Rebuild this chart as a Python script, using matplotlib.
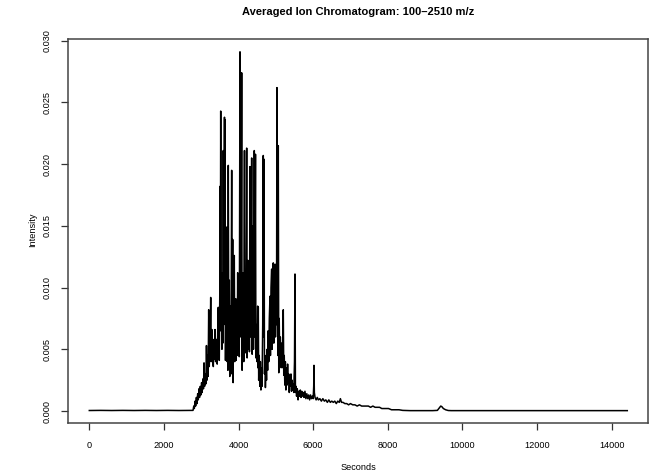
import matplotlib
matplotlib.use("Agg")
import matplotlib.pyplot as plt

# ── data ─────────────────────────────────────────────────────────────────────
baseline_t = [0, 300, 600, 900, 1200, 1500, 1800, 2100, 2400, 2700, 2780]
baseline_v = [0.00004, 0.00005, 0.00004, 0.00005, 0.00004, 0.00005,
              0.00004, 0.00005, 0.00004, 0.00005, 0.00005]

rise_t = [2800, 2815, 2835, 2850, 2870, 2885, 2905, 2920, 2940, 2955,
          2975, 2990, 3010, 3025, 3045, 3060, 3075, 3090, 3110, 3125,
          3140, 3155, 3170, 3185, 3200, 3215, 3240, 3254, 3268, 3285,
          3300, 3324, 3340, 3355, 3369, 3385, 3400, 3414, 3428, 3445,
          3457, 3470]
rise_v = [0.0004, 0.0002, 0.0008, 0.0004, 0.0011, 0.0006, 0.0014, 0.0009, 0.0018, 0.0011,
          0.0020, 0.0013, 0.0023, 0.0015, 0.0026, 0.0018, 0.0039, 0.0020, 0.0030, 0.0022,
          0.0053, 0.0025, 0.0045, 0.0028, 0.0082, 0.0036, 0.0060, 0.0092, 0.0040, 0.0066,
          0.0045, 0.0036, 0.0058, 0.0042, 0.0066, 0.0040, 0.0055, 0.0058, 0.0038, 0.0070,
          0.0084, 0.0045]

peak_t = [3484, 3497, 3503, 3512, 3522, 3532, 3545, 3555, 3564, 3578,
          3591, 3605, 3623, 3630, 3637, 3650, 3660, 3670, 3682, 3695,
          3705, 3715, 3725, 3738, 3752, 3765, 3778, 3790, 3802, 3816,
          3826, 3843, 3855, 3868, 3886, 3898, 3910, 3924, 3935, 3950,
          3963, 3977, 3990, 4005, 4020, 4039, 4050, 4060, 4072, 4084,
          4095, 4110, 4127, 4140, 4159, 4170, 4185, 4200, 4218, 4230,
          4240, 4253, 4265, 4280, 4292, 4307, 4320, 4335, 4352, 4365,
          4375, 4387, 4400, 4410, 4422, 4435, 4454, 4465, 4480, 4495,
          4513, 4520, 4529, 4540, 4555, 4570, 4585, 4600, 4615, 4630,
          4648, 4663, 4672, 4682, 4695, 4710, 4720, 4735, 4750, 4765,
          4780, 4795, 4810, 4825, 4843, 4855, 4870, 4888, 4900, 4915,
          4931, 4945, 4960, 4977, 4990, 5005, 5018, 5030, 5045, 5055,
          5065, 5078, 5090, 5105, 5120, 5135, 5150, 5165, 5180, 5199,
          5212, 5225, 5240, 5255, 5270, 5285, 5300, 5315, 5330, 5345,
          5360, 5375, 5390, 5405, 5420, 5435, 5450, 5465, 5480, 5500,
          5513, 5525, 5540, 5555, 5575, 5595, 5615, 5635, 5655, 5675,
          5695, 5715, 5735, 5755, 5780, 5805, 5830, 5855, 5880, 5905,
          5930, 5955, 5980, 6000, 6015, 6022, 6032, 6050]
peak_v = [0.0041, 0.0095, 0.0182, 0.0065, 0.0243, 0.0075, 0.0100, 0.0050, 0.0112, 0.0055,
          0.0211, 0.0070, 0.0238, 0.0080, 0.0236, 0.0041, 0.0095, 0.0045, 0.0149, 0.0040,
          0.0090, 0.0033, 0.0199, 0.0050, 0.0106, 0.0028, 0.0085, 0.0035, 0.0070, 0.0195,
          0.0030, 0.0139, 0.0023, 0.0090, 0.0126, 0.0040, 0.0075, 0.0091, 0.0041, 0.0080,
          0.0045, 0.0112, 0.0050, 0.0095, 0.0044, 0.0291, 0.0090, 0.0060, 0.0130, 0.0274,
          0.0033, 0.0085, 0.0112, 0.0040, 0.0211, 0.0060, 0.0100, 0.0047, 0.0213, 0.0043,
          0.0095, 0.0122, 0.0050, 0.0090, 0.0048, 0.0198, 0.0060, 0.0100, 0.0205, 0.0046,
          0.0095, 0.0150, 0.0050, 0.0090, 0.0211, 0.0060, 0.0208, 0.0043, 0.0070, 0.0040,
          0.0085, 0.0035, 0.0084, 0.0025, 0.0045, 0.0020, 0.0040, 0.0017, 0.0035, 0.0020,
          0.0070, 0.0207, 0.0060, 0.0204, 0.0030, 0.0045, 0.0019, 0.0040, 0.0025, 0.0050,
          0.0033, 0.0065, 0.0040, 0.0075, 0.0093, 0.0045, 0.0100, 0.0115, 0.0050, 0.0105,
          0.0120, 0.0055, 0.0090, 0.0119, 0.0060, 0.0110, 0.0070, 0.0262, 0.0080, 0.0045,
          0.0215, 0.0031, 0.0075, 0.0035, 0.0060, 0.0039, 0.0055, 0.0035, 0.0050, 0.0082,
          0.0029, 0.0045, 0.0021, 0.0040, 0.0017, 0.0035, 0.0021, 0.0038, 0.0023, 0.0030,
          0.0015, 0.0028, 0.0020, 0.0030, 0.0016, 0.0025, 0.0017, 0.0022, 0.0015, 0.0040,
          0.0111, 0.0015, 0.0020, 0.0012, 0.0018, 0.0009, 0.0016, 0.0012, 0.0017, 0.0011,
          0.0016, 0.0012, 0.0015, 0.0011, 0.0016, 0.0010, 0.0014, 0.0010, 0.0013, 0.0009,
          0.0013, 0.0010, 0.0012, 0.0010, 0.0020, 0.0037, 0.0015, 0.0011]

tail_t = [6080, 6110, 6140, 6180, 6220, 6260, 6300, 6340, 6380, 6420,
          6460, 6500, 6540, 6580, 6620, 6660, 6700, 6730, 6760, 6800,
          6850, 6900, 6950, 7000, 7060, 7120, 7180, 7240, 7300, 7360,
          7420, 7480, 7540, 7600, 7660, 7720, 7780, 7840, 7900, 7960,
          8020, 8100, 8200, 8300, 8400, 8600, 8800, 9000, 9200, 9330,
          9380, 9420, 9450, 9490, 9550, 9620, 9700, 10500, 11500, 12500,
          13500, 14420]
tail_v = [0.0009, 0.0011, 0.0009, 0.0010, 0.0008, 0.0010, 0.0008, 0.0009, 0.0007, 0.0009,
          0.0007, 0.0008, 0.0007, 0.0008, 0.0006, 0.0008, 0.0007, 0.0010, 0.0007, 0.0007,
          0.0006, 0.0006, 0.0005, 0.0006, 0.0005, 0.0005, 0.0004, 0.0005, 0.0004, 0.0004,
          0.0004, 0.0004, 0.0003, 0.0004, 0.0003, 0.0003, 0.0003, 0.0002, 0.0002, 0.0002,
          0.0002, 0.0001, 0.0001, 0.0001, 0.00005, 0.00003, 0.00003, 0.00003, 0.00003, 0.00005,
          0.00025, 0.0004, 0.00035, 0.0002, 0.0001, 0.00004, 0.00003, 0.00003, 0.00003, 0.00003,
          0.00003, 0.00003]

seconds = baseline_t + rise_t + peak_t + tail_t
intensity = baseline_v + rise_v + peak_v + tail_v

x_ticks = [0, 2000, 4000, 6000, 8000, 10000, 12000, 14000]
y_ticks = [0.000, 0.005, 0.010, 0.015, 0.020, 0.025, 0.030]

# ── figure ───────────────────────────────────────────────────────────────────
plt.rcParams["font.family"] = ["Liberation Sans", "DejaVu Sans"]

fig = plt.figure(figsize=(6.49, 4.76), dpi=100)
ax = fig.add_axes([0.1045, 0.1107, 0.8947, 0.8074])

ax.plot(seconds, intensity, color="black", linewidth=1.1)

ax.set_xlim(-576, 14988)
ax.set_ylim(-0.000997, 0.03014)
ax.set_xticks(x_ticks)
ax.set_xticklabels([str(t) for t in x_ticks])
ax.set_yticks(y_ticks)
ax.set_yticklabels([f"{t:.3f}" for t in y_ticks], rotation=90, va="center")

ax.tick_params(axis="both", direction="out", length=5, width=0.9,
               color="#333333", labelsize=6.6)
ax.tick_params(axis="x", pad=8)
ax.tick_params(axis="y", pad=7)
for sp in ax.spines.values():
    sp.set_color("#444444")
    sp.set_linewidth(1.1)

fig.text(358 / 649, 1 - 12 / 476, "Averaged Ion Chromatogram: 100\u20132510 m/z",
         ha="center", va="center", fontsize=8, fontweight="bold")
fig.text(358 / 649, 1 - 467 / 476, "Seconds", ha="center", va="center", fontsize=6.6)
fig.text(33 / 649, 1 - 230 / 476, "Intensity", ha="center", va="center",
         rotation=90, fontsize=6.6)

fig.savefig("out.png", dpi=100)
plt.close(fig)
